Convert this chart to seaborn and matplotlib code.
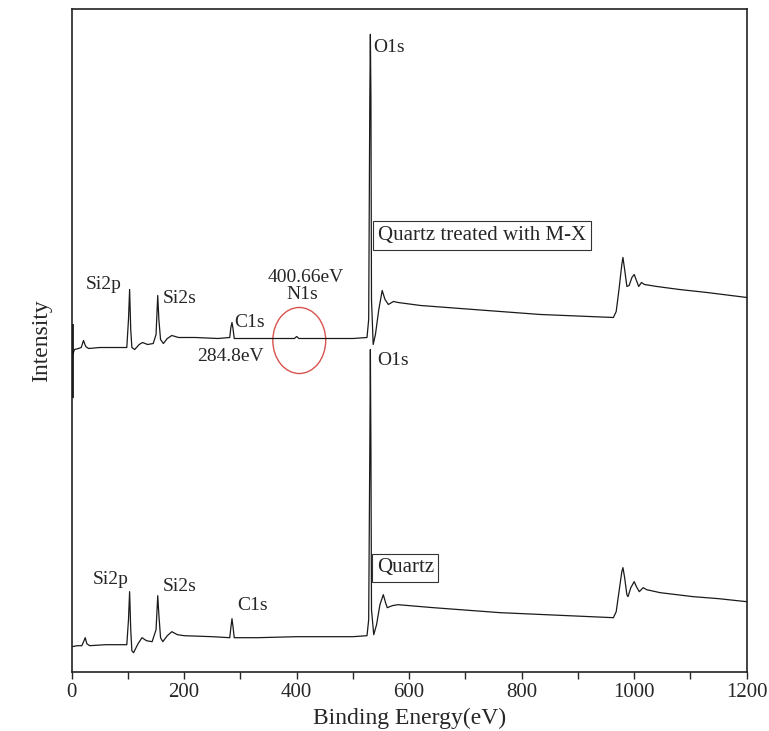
import matplotlib
matplotlib.use("Agg")
import matplotlib.pyplot as plt
from matplotlib.patches import Ellipse
from matplotlib.ticker import MultipleLocator, FuncFormatter
import pandas as pd
import seaborn as sns

# survey spectra: binding energy (eV) and intensity (a.u.)
upper_E = [0, 0, 0, 5, 12, 17, 21, 25, 30, 50, 80, 98,
           101, 103, 105, 107, 112, 120, 126, 135, 145, 150,
           153, 155, 158, 163, 170, 178, 190, 220, 260, 281,
           283, 285, 287, 289, 330, 380, 396, 400, 404, 450,
           500, 525, 528, 530, 531, 532, 533, 536, 540, 546,
           552, 557, 563, 572, 580, 620, 714, 833, 963, 968,
           973, 978, 980, 983, 987, 991, 996, 1000, 1004, 1008,
           1013, 1018, 1040, 1080, 1129, 1200]
upper_I = [347, 274, 322, 322, 323, 324, 331, 325, 323, 324, 324, 324,
           352, 382, 342, 324, 322, 327, 329, 327, 328, 337,
           376, 352, 332, 328, 333, 336, 334, 334, 333, 334,
           344, 349, 342, 333, 333, 333, 333, 335, 333, 333,
           333, 334, 352, 572, 637, 572, 372, 327, 337, 362,
           381, 372, 367, 370, 369, 366, 362, 357, 354, 360,
           382, 407, 414, 402, 385, 386, 394, 397, 391, 385,
           389, 387, 385, 382, 379, 374]

lower_E = [0, 10, 18, 22, 24, 27, 32, 60, 98,
           101, 103, 105, 107, 110, 118, 125, 133, 143, 150,
           153, 155, 158, 162, 170, 178, 188, 200, 250, 281,
           283, 285, 287, 289, 330, 400, 450, 500, 525, 528,
           530, 531, 532, 533, 537, 542, 548, 554, 558, 561,
           570, 580, 643, 762, 963, 968, 973, 978, 980, 983,
           987, 989, 994, 1000, 1004, 1009, 1016, 1022, 1046, 1105,
           1150, 1200]
lower_I = [25, 26, 26, 31, 34, 28, 26, 27, 27,
           52, 80, 42, 21, 19, 28, 34, 31, 30, 42,
           76, 57, 34, 30, 36, 40, 37, 36, 35, 34,
           44, 53, 44, 34, 34, 35, 35, 35, 36, 52,
           222, 322, 222, 62, 37, 47, 67, 77, 69, 64,
           66, 67, 64, 59, 54, 60, 80, 100, 104, 94,
           77, 75, 84, 90, 85, 80, 84, 82, 79, 75,
           73, 70]

# peak labels: (text, energy, intensity, alignment)
upper_labels = [("Si2p", 56.5, 387, "center"), ("Si2s", 191.6, 373, "center"),
                ("C1s", 317, 349, "center"), ("284.8eV", 281.4, 315, "center"),
                ("400.66eV", 415.6, 394, "center"), ("N1s", 410.3, 377, "center"),
                ("O1s", 535.6, 624, "left")]
lower_labels = [("Si2p", 68.6, 92, "center"), ("Si2s", 192.5, 85, "center"),
                ("C1s", 322, 66, "center"), ("O1s", 544, 311, "left")]
sample_names = ["Quartz treated with M-X", "Quartz"]
sample_pos = [(544.5, 436), (542.2, 104)]

upper = pd.DataFrame({"E": upper_E, "I": upper_I})
lower = pd.DataFrame({"E": lower_E, "I": lower_I})

sns.set_style("ticks")
plt.rcParams["font.family"] = ["Liberation Serif", "DejaVu Serif"]

fig = plt.figure(figsize=(7.69, 7.31), dpi=100)
ax = fig.add_axes([0.0932, 0.0811, 0.8778, 0.9062])

sns.lineplot(data=upper, x="E", y="I", ax=ax, color="#1a1a1a", lw=0.9, sort=False)
sns.lineplot(data=lower, x="E", y="I", ax=ax, color="#1a1a1a", lw=0.9, sort=False)
# the vertical jump at 0 eV shows up as a heavy stroke on the left axis
ax.plot(upper["E"][:2], upper["I"][:2], color="black", lw=2.6, solid_capstyle="butt")

for txt, x, y, ha in upper_labels + lower_labels:
    ax.text(x, y, txt, ha=ha, va="center", fontsize=14)

for name, (x, y) in zip(sample_names, sample_pos):
    ax.text(x, y, name, ha="left", va="center", fontsize=15,
            bbox=dict(boxstyle="square,pad=0.22", fc="white", ec="#333333", lw=0.8))

# circle around the weak N1s signal
ax.add_patch(Ellipse((404.6, 331), 94, 66, fill=False, ec="#d9534f", lw=1))

ax.set_xlim(0, 1200)
ax.set_ylim(0, 662)
ax.xaxis.set_major_locator(MultipleLocator(100))
ax.xaxis.set_major_formatter(FuncFormatter(lambda v, p: f"{int(v)}" if int(v) % 200 == 0 else ""))
ax.set_yticks([])
ax.tick_params(axis="x", direction="out", length=5, width=1, labelsize=15, pad=3)
for s in ax.spines.values():
    s.set_linewidth(1.2)
    s.set_color("#222222")

ax.set_xlabel("Binding Energy(eV)", fontsize=17, labelpad=4)
ax.set_ylabel("Intensity", fontsize=17, labelpad=14)

fig.savefig("out.png", dpi=100)
